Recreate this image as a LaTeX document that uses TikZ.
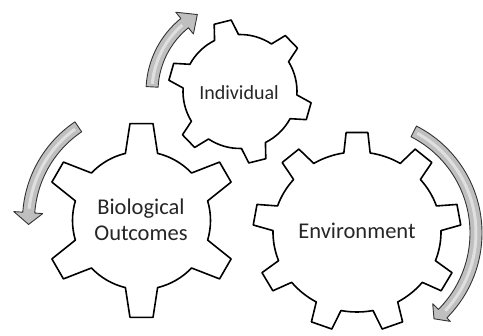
\documentclass[tikz,border=0pt]{standalone}
\usepackage{fontspec}
\setmainfont{Carlito}
\usepackage{tikz}

\begin{document}
\begin{tikzpicture}[
    x=1pt, y=1pt,
    font=\fontsize{22.5}{26}\selectfont,
    cogwheel/.style={
        draw=black,
        fill=white,
        line width=1.6pt,
        line join=round
    },
    spin/.style={
        draw=black!80,
        fill=gray!50,
        line width=0.9pt,
        line join=round
    },
    glint/.style={
        white,
        opacity=0.5,
        line width=3pt
    },
    gearname/.style={
        text=black!85,
        align=center
    }
]
\useasboundingbox (0,0) rectangle (483,-336);

% gears
\draw[cogwheel, shift={(240,-91.5)}] (91.5:57)
    \foreach \a in {104,164,...,404} {
        -- (\a-7:72) -- (\a+7:72) -- (\a+12.5:57)
        arc[start angle=\a+12.5, end angle=\a+47.5, radius=57]
    } -- cycle;

\draw[cogwheel, shift={(141.5,-220.5)}] (76.5:69)
    \foreach \a in {90,150,...,390} {
        -- (\a-6.8:97.5) -- (\a+6.8:97.5) -- (\a+13.5:69)
        arc[start angle=\a+13.5, end angle=\a+46.5, radius=69]
    } -- cycle;

\draw[cogwheel, shift={(357,-232)}] (81:84 and 80)
    \foreach \a in {90,130,...,410} {
        -- (\a-6:104 and 100) -- (\a+6:104 and 100) -- (\a+9:84 and 80)
        arc[start angle=\a+9, end angle=\a+31, x radius=84, y radius=80]
    } -- cycle;

% turning arrows
\begin{scope}[shift={(240,-91.5)}]
\draw[spin] (177:94) arc[start angle=177, end angle=129, radius=94]
    -- (129:102) -- (119:88) -- (129:74) -- (129:82)
    arc[start angle=129, end angle=177, radius=82] -- cycle;
\draw[glint] (175:88) arc[start angle=175, end angle=131, radius=88];
\end{scope}

\begin{scope}[shift={(141.5,-220.5)}]
\draw[spin] (124:107) arc[start angle=124, end angle=176, radius=107]
    -- (176:99) -- (182:113) -- (176:128) -- (176:119)
    arc[start angle=176, end angle=124, radius=119] -- cycle;
\draw[glint] (126:113) arc[start angle=126, end angle=174, radius=113];
\end{scope}

\begin{scope}[shift={(362,-233)}]
\draw[spin] (63:120) arc[start angle=63, end angle=-45, radius=120]
    -- (-45:125) -- (-50:112) -- (-45:100) -- (-45:108)
    arc[start angle=-45, end angle=63, radius=108] -- cycle;
\draw[glint] (61:114) arc[start angle=61, end angle=-43, radius=114];
\end{scope}

% labels
\node[gearname, font=\fontsize{20}{24}\selectfont] (indiv) at (239,-92.5) {Individual};
\node[gearname] (bio) at (141,-220) {Biological\\Outcomes};
\node[gearname] (env) at (357,-231) {Environment};

\end{tikzpicture}
\end{document}
